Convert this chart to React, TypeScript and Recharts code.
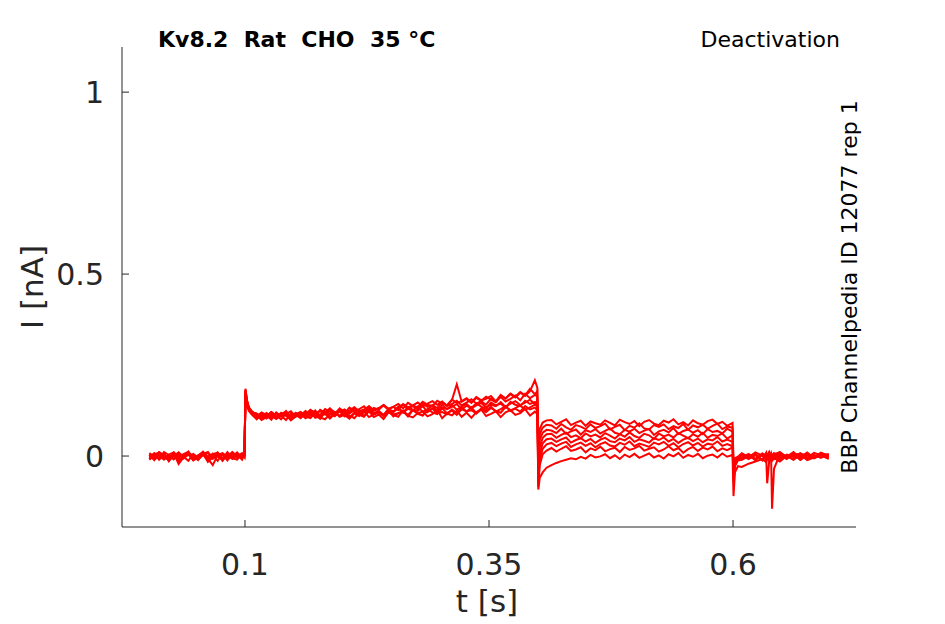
import { LineChart, Line, XAxis, YAxis } from "recharts"

// sample times [s]
const times = [
  0.002, 0.007, 0.012, 0.017, 0.022, 0.027, 0.032, 0.037, 0.042, 0.047, 0.052, 0.057, 0.062, 0.067, 0.072, 0.077, 0.082, 0.087, 0.092, 0.097, 0.0995,
  0.1005, 0.102, 0.104, 0.107,
  0.112, 0.117, 0.122, 0.127, 0.132, 0.137, 0.142, 0.147, 0.152, 0.157,
  0.162, 0.167, 0.172, 0.177, 0.182, 0.187, 0.192, 0.197, 0.202, 0.207,
  0.212, 0.217, 0.222, 0.227, 0.232, 0.237, 0.242, 0.247, 0.252, 0.257,
  0.262, 0.267, 0.272, 0.277, 0.282, 0.287, 0.292, 0.297, 0.302, 0.307,
  0.312, 0.317, 0.322, 0.327, 0.332, 0.337, 0.342, 0.347, 0.352, 0.357,
  0.362, 0.367, 0.372, 0.377, 0.382, 0.387, 0.392, 0.397, 0.3995,
  0.4005, 0.402, 0.405, 0.409,
  0.414, 0.419, 0.424, 0.429, 0.434, 0.439, 0.444, 0.449, 0.454, 0.459,
  0.464, 0.469, 0.474, 0.479, 0.484, 0.489, 0.494, 0.499, 0.504, 0.509,
  0.514, 0.519, 0.524, 0.529, 0.534, 0.539, 0.544, 0.549, 0.554, 0.559,
  0.564, 0.569, 0.574, 0.579, 0.584, 0.589, 0.594, 0.5995,
  0.6005, 0.602, 0.605,
  0.609, 0.616, 0.623, 0.63, 0.634, 0.635, 0.637, 0.639, 0.64, 0.642, 0.648, 0.655, 0.662, 0.669, 0.676, 0.683, 0.69, 0.698,
]

// current sweeps [nA]
const sweep0 = [
  .006, -.004, .011, .002, -.008, .009, -.003, .005, .012, -.006, -.010, .003, .008, -.002, .010, -.007, .001, .009, -.005, .004, .002,
  .178, .150, .132, .122,
  .115, .104, .109, .121, .112, .101, .117, .108, .119, .106,
  .113, .122, .105, .110, .118, .103, .116, .124, .109, .112,
  .104, .119, .111, .123, .107, .114, .102, .120, .113, .108,
  .125, .111, .106, .118, .122, .109, .115, .127, .104, .117,
  .112, .124, .108, .119, .105, .121, .128, .110, .116, .123,
  .107, .120, .126, .113, .118, .129, .111, .122, .116,
  .030, .075, .092, .098,
  .099, .087, .094, .101, .085, .092, .097, .083, .095, .090,
  .086, .098, .091, .084, .100, .093, .088, .096, .082, .094,
  .099, .089, .085, .097, .092, .101, .087, .093, .084, .098,
  .090, .086, .096, .100, .088, .094, .083, .091,
  -.020, -.006, -.002,
  .008, -.003, .010, .001, -.006, .004, .009, -.002, -.008, .005, .011, -.004, .003, .007, -.005, .009, .002, -.003,
]
const sweep1 = [
  -.005, .008, .001, -.010, .004, .010, -.002, -.007, .006, .003, -.011, .007, -.001, .005, .009, -.006, -.003, .011, .000, -.004, .005,
  .172, .145, .128, .118,
  .108, .117, .103, .112, .106, .119, .110, .101, .114, .120,
  .109, .104, .118, .113, .122, .107, .116, .111, .124, .106,
  .119, .113, .108, .125, .116, .121, .110, .127, .114, .118,
  .123, .109, .126, .117, .112, .129, .120, .115, .131, .118,
  .125, .113, .129, .122, .134, .117, .127, .121, .132, .124,
  .119, .135, .126, .130, .122, .137, .128, .133, .126,
  .010, .060, .078, .086,
  .084, .075, .088, .079, .072, .085, .081, .074, .087, .077,
  .082, .089, .073, .080, .086, .071, .083, .078, .090, .076,
  .073, .085, .080, .087, .074, .082, .077, .088, .072, .084,
  .079, .086, .075, .083, .089, .074, .081, .078,
  -.030, -.012, -.004,
  -.006, .004, -.009, .007, .002, -.004, .010, -.007, .003, .008, -.005, .001, -.010, .006, .002, -.006, .008, .001,
]
const sweep2 = [
  .003, -.009, -.002, .007, -.013, .002, .009, -.006, .004, -.010, .001, .012, -.004, -.008, .006, .003, -.012, .005, -.001, .008, -.003,
  .185, .155, .134, .122,
  .113, .105, .118, .110, .102, .116, .121, .108, .113, .104,
  .120, .112, .125, .109, .117, .123, .111, .128, .116, .119,
  .126, .114, .121, .131, .118, .124, .113, .129, .122, .133,
  .120, .135, .127, .124, .138, .121, .131, .126, .140, .129,
  .135, .143, .128, .138, .132, .145, .136, .130, .147, .139,
  .144, .133, .149, .141, .137, .152, .143, .148, .146,
  -.010, .045, .064, .072,
  .070, .063, .075, .061, .068, .073, .059, .071, .066, .074,
  .062, .069, .076, .064, .060, .072, .067, .075, .063, .070,
  .074, .058, .068, .072, .065, .077, .061, .069, .073, .064,
  .071, .060, .074, .066, .069, .062, .075, .067,
  -.045, -.018, -.006,
  .004, -.007, .002, -.012, .006, -.002, .009, -.009, .001, -.005, .010, -.003, .005, -.010, .007, -.002, .003, -.007,
]
const sweep3 = [
  -.009, .004, .010, -.004, -.011, .006, -.015, .002, .008, -.003, -.007, .005, .011, -.006, .001, -.012, .007, -.002, .010, -.005, .001,
  .168, .142, .126, .116,
  .104, .116, .110, .121, .107, .113, .119, .103, .117, .112,
  .124, .115, .110, .127, .119, .131, .114, .122, .128, .117,
  .133, .121, .126, .136, .124, .130, .139, .127, .122, .135,
  .141, .130, .137, .128, .144, .135, .140, .132, .148, .138,
  .143, .152, .139, .147, .156, .144, .151, .141, .158, .149,
  .162, .150, .157, .166, .153, .171, .159, .168, .164,
  -.040, .025, .050, .060,
  .061, .050, .058, .064, .052, .057, .049, .062, .054, .059,
  .051, .063, .056, .048, .060, .053, .065, .055, .050, .061,
  .057, .047, .062, .054, .059, .051, .063, .056, .049, .060,
  .053, .064, .050, .058, .055, .062, .048, .057,
  -.060, -.025, -.010,
  -.009, .003, -.012, .006, -.004, -.075, -.016, .002, -.006, .005, -.010, .004, -.003, .008, -.008, .003, -.005, .006,
]
const sweep4 = [
  .008, -.002, -.007, .011, .003, -.009, .005, -.004, .012, -.008, .002, .009, -.005, .004, -.013, .007, .000, -.006, -.010, .006, .003,
  .176, .148, .130, .120,
  .117, .106, .112, .100, .120, .109, .115, .123, .108, .118,
  .113, .126, .119, .111, .129, .122, .116, .131, .120, .125,
  .134, .123, .128, .137, .126, .132, .140, .129, .135, .143,
  .131, .146, .138, .134, .149, .141, .137, .152, .144, .140,
  .155, .146, .151, .159, .148, .162, .153, .157, .165, .150,
  .168, .158, .172, .163, .176, .167, .185, .170, .178,
  -.060, .005, .035, .046,
  .048, .039, .046, .051, .037, .044, .049, .040, .047, .036,
  .045, .050, .041, .038, .048, .043, .052, .039, .046, .042,
  .037, .049, .044, .051, .040, .047, .036, .045, .050, .041,
  .048, .038, .046, .043, .052, .040, .045, .039,
  -.035, -.015, -.006,
  .002, -.008, .006, -.011, .009, -.004, .005, -.009, .001, -.006, .008, -.002, .011, -.007, .003, -.005, .009, .000,
]
const sweep5 = [
  -.002, .007, -.010, .003, -.006, .009, -.022, -.004, .006, -.011, .001, .008, -.007, -.025, .003, .008, -.005, .010, -.004, .002, -.003,
  .182, .152, .133, .123,
  .109, .120, .113, .104, .118, .111, .124, .107, .116, .121,
  .112, .127, .118, .123, .114, .130, .120, .125, .117, .133,
  .124, .129, .137, .121, .132, .127, .140, .130, .135, .126,
  .143, .134, .139, .147, .136, .144, .151, .141, .150, .138,
  .153, .197, .149, .157, .146, .160, .152, .163, .155, .148,
  .166, .158, .170, .161, .174, .165, .178, .208, .188,
  -.075, -.010, .020, .032,
  .036, .027, .034, .039, .025, .032, .037, .028, .035, .024,
  .033, .038, .029, .026, .036, .031, .040, .027, .034, .030,
  .025, .037, .032, .039, .028, .035, .024, .033, .038, .029,
  .036, .026, .034, .031, .040, .028, .033, .027,
  -.050, -.020, -.008,
  -.004, .006, -.009, .003, -.007, .008, -.011, .001, -.145, -.035, .005, -.008, .007, -.003, .010, -.006, .002, .005,
]
const sweep6 = [
  .004, -.011, .008, -.005, .001, -.008, .010, -.002, -.013, .006, -.004, .003, -.009, .007, -.001, -.008, .011, -.005, .004, -.010, .006,
  .165, .140, .124, .114,
  .101, .114, .108, .119, .105, .111, .099, .116, .110, .121,
  .107, .118, .113, .102, .121, .115, .109, .124, .112, .118,
  .126, .113, .120, .129, .116, .123, .111, .127, .121, .132,
  .119, .130, .125, .136, .122, .128, .138, .124, .133, .129,
  .140, .127, .136, .143, .131, .139, .146, .134, .141, .137,
  .148, .135, .144, .151, .140, .147, .155, .143, .152,
  -.085, -.025, .005, .015,
  .022, .012, .020, .027, .014, .018, .024, .010, .021, .016,
  .026, .013, .019, .023, .011, .025, .017, .021, .028, .015,
  .020, .024, .012, .018, .027, .016, .022, .009, .019, .025,
  .014, .023, .018, .026, .013, .021, .016, .024,
  -.070, -.028, -.012,
  -.010, -.001, -.008, .004, -.012, .003, -.006, .008, -.004, -.009, .001, -.007, .006, -.011, .003, -.005, .007, -.003,
]
const sweep7 = [
  -.010, .003, -.006, .008, -.014, .004, -.009, .001, .007, -.012, -.004, .006, -.016, -.003, .008, -.013, .004, -.008, .003, -.005, .001,
  .180, .150, .131, .120,
  .112, .099, .107, .117, .103, .110, .114, .098, .109, .116,
  .104, .111, .119, .106, .101, .115, .121, .108, .113, .103,
  .117, .110, .123, .107, .114, .120, .112, .125, .109, .118,
  .122, .113, .127, .116, .111, .124, .130, .118, .121, .115,
  .128, .119, .133, .123, .126, .117, .131, .125, .135, .122,
  .129, .137, .124, .132, .139, .127, .134, .141, .136,
  -.092, -.060, -.045, -.032,
  -.025, -.019, -.014, -.010, -.006, -.009, -.002, -.007, .003, -.004,
  -.001, .005, -.006, .002, -.008, .004, -.003, .006, -.005, .001,
  .007, -.004, .002, -.007, .005, -.001, .008, -.005, .003, -.002,
  .006, -.006, .001, .004, -.004, .007, -.002, .003,
  -.110, -.045, -.028,
  -.030, -.021, -.015, -.008, -.017, -.005, -.012, .002, -.013, -.006, -.015, .000, -.010, .004, -.011, -.004, .002, -.008,
]

const sweeps = [sweep0, sweep1, sweep2, sweep3, sweep4, sweep5, sweep6, sweep7]
const xTicks = [0.1, 0.35, 0.6]
const yTicks = [0, 0.5, 1]

const data = times.map((t, i) => {
  const row: Record<string, number> = { t }
  sweeps.forEach((s, k) => { row["s" + k] = s[i] })
  return row
})

const ink = "#262626"
const font = "DejaVu Sans, sans-serif"

function XTick(props: any) {
  const { x, y, payload } = props
  return (
    <g>
      <line x1={x} y1={y} x2={x} y2={y - 7} stroke={ink} strokeWidth={1} />
      <text x={x} y={y + 48} textAnchor="middle" fill={ink} fontSize={30} fontFamily={font}>
        {String(payload.value)}
      </text>
    </g>
  )
}

function YTick(props: any) {
  const { x, y, payload } = props
  return (
    <g>
      <line x1={x} y1={y} x2={x + 7} y2={y} stroke={ink} strokeWidth={1} />
      <text x={x - 18} y={y + 11} textAnchor="end" fill={ink} fontSize={30} fontFamily={font}>
        {String(payload.value)}
      </text>
    </g>
  )
}

export default function App() {
  return (
    <div style={{ position: "absolute", left: 0, top: 0, width: 945, height: 624, background: "#fff" }}>
      <LineChart width={945} height={624} data={data} margin={{ top: 47, right: 89, bottom: 37, left: 22 }}>
        <XAxis
          dataKey="t"
          type="number"
          domain={[-0.026, 0.726]}
          allowDataOverflow
          ticks={xTicks}
          height={60}
          tickSize={0}
          tickMargin={0}
          tickLine={false}
          axisLine={{ stroke: ink, strokeWidth: 1 }}
          tick={<XTick />}
        />
        <YAxis
          type="number"
          domain={[-0.195, 1.124]}
          allowDataOverflow
          ticks={yTicks}
          width={100}
          tickSize={0}
          tickMargin={0}
          tickLine={false}
          axisLine={{ stroke: ink, strokeWidth: 1 }}
          tick={<YTick />}
        />
        {sweeps.map((_, k) => (
          <Line
            key={k}
            type="linear"
            dataKey={"s" + k}
            stroke="#ff0000"
            strokeWidth={2}
            dot={false}
            isAnimationActive={false}
          />
        ))}
      </LineChart>
      <svg width={945} height={624} style={{ position: "absolute", left: 0, top: 0, pointerEvents: "none" }}>
        <text x={158} y={47} fontSize={22} fontWeight="bold" fill="#000" fontFamily={font} style={{ whiteSpace: "pre" }}>
          {"Kv8.2  Rat  CHO  35 °C"}
        </text>
        <text x={840} y={47} fontSize={22} textAnchor="end" fill="#000" fontFamily={font}>
          Deactivation
        </text>
        <text transform="translate(857,287) rotate(-90)" fontSize={22} textAnchor="middle" fill="#000" fontFamily={font}>
          BBP Channelpedia ID 12077 rep 1
        </text>
        <text transform="translate(43,287) rotate(-90)" fontSize={31} textAnchor="middle" fill={ink} fontFamily={font}>
          I [nA]
        </text>
        <text x={487} y={612} fontSize={31} textAnchor="middle" fill={ink} fontFamily={font}>
          t [s]
        </text>
      </svg>
    </div>
  )
}
